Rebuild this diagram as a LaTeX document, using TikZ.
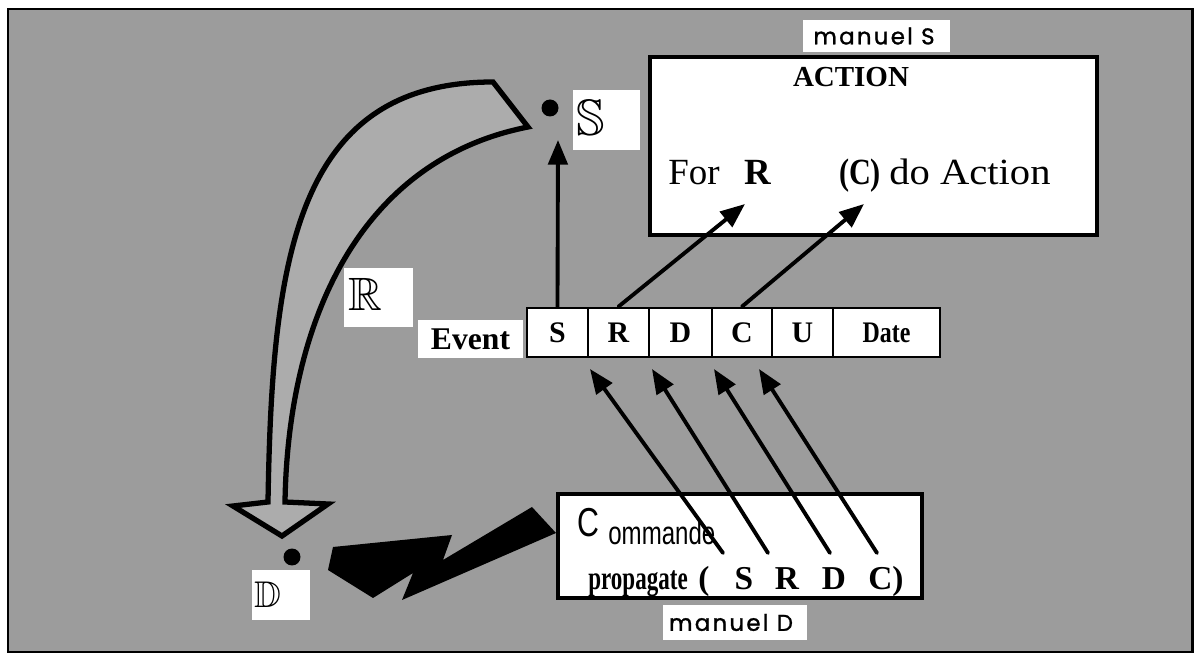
\documentclass[tikz,border=0pt]{standalone}
\usepackage{fontspec}
\usepackage{amssymb}
\usepackage{graphicx}
\setmainfont{Liberation Serif}
\setsansfont{Liberation Sans}
\newfontfamily\roundsans[LetterSpace=10, FakeBold=1.2]{Poppins}
\usetikzlibrary{arrows.meta}

\definecolor{screen}{RGB}{156,156,156}
\definecolor{screenlight}{RGB}{172,172,172}

% double-struck letter at a given scale
\newcommand\dsletter[2]{\scalebox{#1}{\fontsize{24.88}{26}\selectfont$\mathbb{#2}$}}

\tikzset{
  px/.style={x=0.02cm, y=-0.02cm},
  framebox/.style={draw=black, line width=1.8pt, fill=white, inner sep=0pt},
  labelbox/.style={fill=white, inner sep=0pt},
  txt/.style={inner sep=0pt, anchor=base},
  cellbox/.style={draw=black, line width=1.6pt, fill=white, inner sep=0pt,
    minimum height=0.98cm, font=\fontsize{17}{17}\selectfont\bfseries},
  link/.style={line width=2.2pt, line cap=round, -{Triangle[length=14pt,width=11pt]}},
  dotmark/.style={circle, fill=black, inner sep=0pt, minimum size=0.34cm},
  serifbig/.style={font=\fontsize{21}{21}\selectfont},
  propfont/.style={font=\fontsize{19}{19}\selectfont\bfseries},
  tagfont/.style={font=\roundsans\fontsize{13}{13}\selectfont},
}

\begin{document}
\begin{tikzpicture}[px]
\useasboundingbox (0,0) rectangle (1198,658);
\fill[white] (0,0) rectangle (1198,658);
% screened panel
\draw[line width=1.7pt, fill=screen] (8,9) rectangle (1192,652);

% hollow curved arrow from S down to D
\draw[line width=3pt, fill=screenlight, line join=miter]
  (285,502) .. controls (288,320) and (360,160) .. (528,127)
  -- (493,82) .. controls (295,82) and (272,260) .. (268,502)
  -- (233,506) -- (282,536) -- (328,504) -- cycle;

% lightning arrow from the command box to D
\fill[black] (532,507) -- (556,533) -- (402,600) -- (413,573) -- (373,598)
  -- (328,570) -- (333,547) -- (452,535) -- (443,560) -- cycle;

% site S
\node[dotmark] (sdot) at (550,108) {};
\node[labelbox, minimum width=1.34cm, minimum height=1.2cm] (slab) at (606.5,120) {};
\node[inner sep=0pt] (sglyph) at (591,118) {\dsletter{1.17}{S}};

% relay R
\node[labelbox, minimum width=1.38cm, minimum height=1.18cm] (rlab) at (378.5,297.5) {};
\node[inner sep=0pt] (rglyph) at (365,294) {\dsletter{1.07}{R}};

% site D
\node[dotmark] (ddot) at (292,557) {};
\node[labelbox, minimum width=1.16cm, minimum height=1.0cm] (dlab) at (281,595) {};
\node[inner sep=0pt] (dglyph) at (268,595) {\dsletter{0.85}{D}};

% action box
\node[labelbox, minimum width=2.94cm, minimum height=0.64cm] (mS) at (876.5,36) {};
\node[tagfont] (mStext) at (874,36) {manuel S};
\node[framebox, minimum width=8.94cm, minimum height=3.56cm] (action) at (873.5,146) {};
\node[txt, font=\fontsize{16.5}{16.5}\selectfont\bfseries] (acttitle) at (851,87) {ACTION};
\node[txt, serifbig, anchor=base west] (afor) at (668,185) {For};
\node[txt, serifbig] (aR) at (758,185) {\bfseries R};
\node[txt, serifbig] (aC) at (860,185) {\bfseries\scalebox{0.82}[1]{(C)}};
\node[txt, serifbig, anchor=base west] (ado) at (889,185) {\scalebox{1.1}[1]{do Action}};

% event record
\node[labelbox, minimum width=2.1cm, minimum height=0.76cm,
      font=\fontsize{18}{18}\selectfont\bfseries] (evt) at (470.5,339) {Event};
\node[cellbox, minimum width=1.22cm] (cS) at (557.5,332.5) {S};
\node[cellbox, minimum width=1.22cm] (cR) at (618.5,332.5) {R};
\node[cellbox, minimum width=1.26cm] (cD) at (680.5,332.5) {D};
\node[cellbox, minimum width=1.20cm] (cC) at (742,332.5) {C};
\node[cellbox, minimum width=1.22cm] (cU) at (802.5,332.5) {U};
\node[cellbox, minimum width=2.14cm] (cDate) at (886.5,332.5) {\scalebox{0.8}[1]{Date}};

% command box
\node[framebox, minimum width=7.28cm, minimum height=2.08cm] (cmd) at (740,546) {};
\node[inner sep=0pt, anchor=base west, font=\sffamily\fontsize{23}{23}\selectfont] (cmdC) at (577,537) {\scalebox{0.75}[1]{C}};
\node[inner sep=0pt, anchor=base west, font=\sffamily\fontsize{18.5}{18.5}\selectfont] (cmdrest) at (608,545) {\scalebox{0.74}[1]{ommande}};
\node[txt, anchor=base west, propfont] (prop) at (588,590) {\scalebox{0.69}[1]{propagate}};
\node[txt, propfont] (pOpen) at (704,590) {(};
\node[txt, propfont] (pS) at (744,590) {S};
\node[txt, propfont] (pR) at (787,590) {R};
\node[txt, propfont] (pD) at (834,590) {D};
\node[txt, propfont] (pC) at (886,590) {C)};
\node[labelbox, minimum width=2.88cm, minimum height=0.7cm] (mD) at (735,622.5) {};
\node[tagfont, font=\roundsans\fontsize{13}{13}\selectfont] (mDtext) at (731,622.5) {manuel D};

% connectors
\coordinate (sTip) at (558,140);
\coordinate (rTip) at (745,204);
\coordinate (cTip) at (864,204);
\draw[link] (cS.north) -- (sTip);
\draw[link] (cR.north) -- (rTip);
\draw[link] (cC.north) -- (cTip);

\coordinate (fromS) at (723,553);
\coordinate (fromR) at (768,553);
\coordinate (fromD) at (830,553);
\coordinate (fromC) at (877,553);
\coordinate (toS) at (590,369);
\coordinate (toR) at (652,369);
\coordinate (toD) at (714,369);
\coordinate (toC) at (759,369);
\draw[link] (fromS) -- (toS);
\draw[link] (fromR) -- (toR);
\draw[link] (fromD) -- (toD);
\draw[link] (fromC) -- (toC);
\end{tikzpicture}
\end{document}
